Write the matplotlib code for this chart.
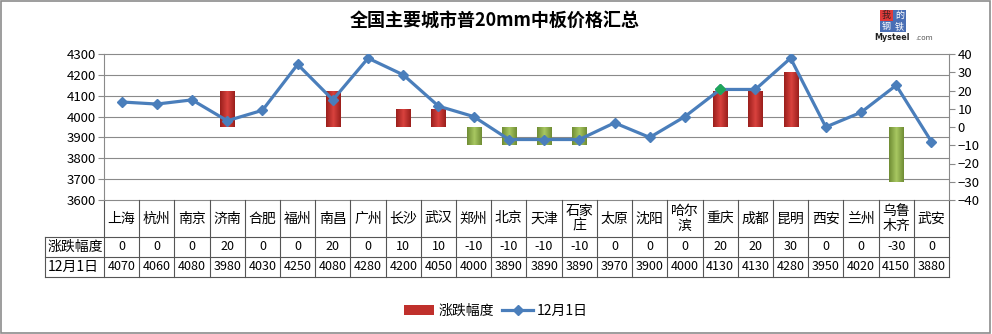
import numpy as np
import matplotlib
matplotlib.use('Agg')
import matplotlib.pyplot as plt
from matplotlib.colors import LinearSegmentedColormap
from matplotlib.patches import Rectangle
from matplotlib.lines import Line2D

plt.rcParams['font.family'] = ['Noto Sans CJK SC', 'DejaVu Sans']

# 数据
cities = ['上海', '杭州', '南京', '济南', '合肥', '福州', '南昌', '广州', '长沙', '武汉',
          '郑州', '北京', '天津', '石家\n庄', '太原', '沈阳', '哈尔\n滨', '重庆', '成都',
          '昆明', '西安', '兰州', '乌鲁\n木齐', '武安']
change = [0, 0, 0, 20, 0, 0, 20, 0, 10, 10, -10, -10, -10, -10, 0, 0, 0, 20, 20, 30, 0, 0, -30, 0]
price = [4070, 4060, 4080, 3980, 4030, 4250, 4080, 4280, 4200, 4050, 4000, 3890, 3890, 3890,
         3970, 3900, 4000, 4130, 4130, 4280, 3950, 4020, 4150, 3880]
price_ticks = [3600, 3700, 3800, 3900, 4000, 4100, 4200, 4300]
change_ticks = [-40, -30, -20, -10, 0, 10, 20, 30, 40]
green_point = 17  # 重庆的点单独标绿

W, H = 992, 334
fig = plt.figure(figsize=(W / 100, H / 100), dpi=100)
fig.patch.set_facecolor('white')
fig.add_artist(Rectangle((0.001, 0.002), 0.997, 0.995, transform=fig.transFigure,
                         fill=False, edgecolor='#8c8c8c', lw=1.2))

L, R, T, B = 104, 949, 54, 200
ax = fig.add_axes([L / W, 1 - B / H, (R - L) / W, (B - T) / H])   # 柱子, 右轴
ax2 = ax.twinx()                                                   # 价格线, 左轴
n = len(cities)
x = np.arange(n)

# 网格线按左轴刻度画
for i in range(len(price_ticks)):
    f = i / (len(price_ticks) - 1)
    ax.plot([0, 1], [f, f], transform=ax.transAxes, color='#8a8a8a', lw=0.8, zorder=0, clip_on=False)

# 渐变柱子
red_cm = LinearSegmentedColormap.from_list('r', ['#9a1f1c', '#d9423e', '#9a1f1c'])
green_cm = LinearSegmentedColormap.from_list('g', ['#6f8c34', '#a8c862', '#6f8c34'])
bars = ax.bar(x, change, width=0.4, color='none', edgecolor='none', zorder=2)
grad = np.linspace(0, 1, 64).reshape(1, -1)
for b, v in zip(bars, change):
    if v == 0:
        continue
    x0, w = b.get_x(), b.get_width()
    y0, h = b.get_y(), b.get_height()
    im = ax.imshow(grad, cmap=red_cm if v > 0 else green_cm, aspect='auto',
                   extent=[x0, x0 + w, y0, y0 + h], zorder=2)
    im.set_clip_path(b)

ax.set_xlim(-0.5, n - 0.5)
ax.set_ylim(-40, 40)
ax.yaxis.tick_right()
ax.set_yticks(change_ticks)
ax.set_xticks([])
ax.tick_params(axis='y', labelsize=9.5, length=4, color='#8a8a8a', pad=2)
for s in ['top', 'bottom', 'left']:
    ax.spines[s].set_visible(False)
ax.spines['right'].set_color('#8a8a8a')

ax2.plot(x, price, color='#4a7ebb', lw=2.3, marker='D', markersize=5.5,
         markerfacecolor='#4a7ebb', markeredgecolor='#4a7ebb', zorder=3)
ax2.plot([x[green_point]], [price[green_point]], marker='D', markersize=5.5, color='#1fa65a',
         lw=0, zorder=4)
ax2.set_ylim(3600, 4300)
ax2.yaxis.tick_left()
ax2.set_yticks(price_ticks)
ax2.tick_params(axis='y', labelsize=9.5, length=4, color='#8a8a8a', pad=2)
for s in ['top', 'bottom', 'right']:
    ax2.spines[s].set_visible(False)
ax2.spines['left'].set_color('#8a8a8a')
ax2.set_xticks([])

# 下方数据表
tr = ax.get_xaxis_transform()
ph = B - T
r1 = -(237 - B) / ph
r2 = -(257 - B) / ph
r3 = -(277 - B) / ph
hx = (45 - L) / (R - L)
lc = '#555555'
for xb in np.arange(-0.5, n, 1.0):
    ax.plot([xb, xb], [0, r3], transform=tr, color=lc, lw=0.8, clip_on=False)
for yy in [r1, r2, r3]:
    ax.plot([hx, 1], [yy, yy], transform=ax.transAxes, color=lc, lw=0.8, clip_on=False)
ax.plot([hx, hx], [r1, r3], transform=ax.transAxes, color=lc, lw=0.8, clip_on=False)

for i in range(n):
    ax.text(x[i], (0 + r1) / 2, cities[i], transform=tr, ha='center', va='center',
            fontsize=10, linespacing=1.05)
    ax.text(x[i], (r1 + r2) / 2, str(change[i]), transform=tr, ha='center', va='center', fontsize=9)
    ax.text(x[i], (r2 + r3) / 2, str(price[i]), transform=tr, ha='center', va='center', fontsize=9)
ax.text(hx + 0.003, (r1 + r2) / 2, '涨跌幅度', transform=ax.transAxes, ha='left', va='center', fontsize=10)
ax.text(hx + 0.003, (r2 + r3) / 2, '12月1日', transform=ax.transAxes, ha='left', va='center', fontsize=10)

# 标题
fig.text(495 / W, 1 - 20 / H, '全国主要城市普20mm中板价格汇总', ha='center', va='center',
         fontsize=13, fontweight='bold')

# 右上角标志
lx, ly = 880, 10
cells = [(0, 0, '#e03a3a', '我'), (1, 0, '#4a6fb5', '的'), (0, 1, '#4a6fb5', '钢'), (1, 1, '#4a6fb5', '铁')]
for cx, cy, c, t in cells:
    fig.add_artist(Rectangle(((lx + cx * 13) / W, 1 - (ly + (cy + 1) * 11) / H), 13 / W, 11 / H,
                             transform=fig.transFigure, facecolor=c, edgecolor='none'))
    fig.text((lx + cx * 13 + 6.5) / W, 1 - (ly + cy * 11 + 5.5) / H, t, ha='center', va='center',
             fontsize=6.5, color='white' if c != '#e03a3a' else '#3a2020')
fig.text(874 / W, 1 - 38 / H, 'Mysteel', ha='left', va='center', fontsize=5.8, fontweight='bold',
         color='#222222', family='DejaVu Sans')
fig.text(915 / W, 1 - 38 / H, '.com', ha='left', va='center', fontsize=5.2, color='#555555',
         family='DejaVu Sans')

# 图例
handles = [Rectangle((0, 0), 1, 1, facecolor='#c0302c'),
           Line2D([], [], color='#4a7ebb', lw=2.3, marker='D', markersize=5)]
fig.legend(handles, ['涨跌幅度', '12月1日'], loc='center', bbox_to_anchor=(496 / W, 1 - 311 / H),
           ncol=2, frameon=False, fontsize=10, handlelength=2.2, handletextpad=0.3, columnspacing=0.6)

fig.savefig('out.png', dpi=100)
